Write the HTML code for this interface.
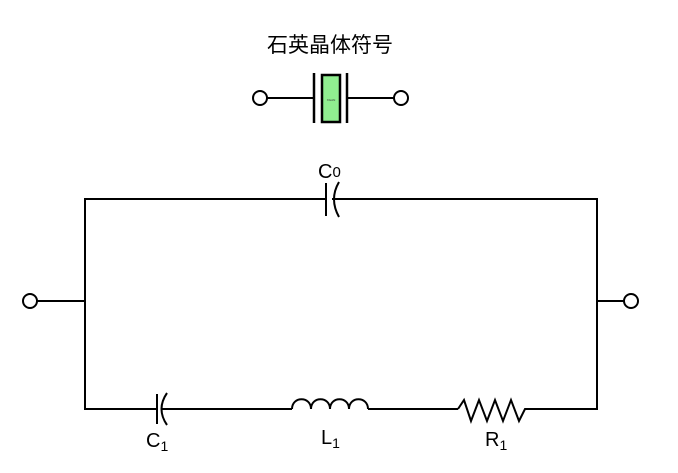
<!DOCTYPE html><html><head><style>body{margin:0;background:#fff}svg{display:block}</style></head><body>
<svg width="678" height="473" viewBox="0 0 678 473" xmlns="http://www.w3.org/2000/svg">
<g stroke="#000" stroke-width="2" fill="none">
<circle cx="260" cy="98" r="7"/>
<line x1="267" y1="98" x2="314" y2="98"/>
<line x1="314" y1="73" x2="314" y2="123" stroke-width="2.5"/>
<rect x="322" y="75" width="18" height="47" fill="#90ee90" stroke-width="2.5"/>
<line x1="347" y1="73" x2="347" y2="123" stroke-width="2.5"/>
<line x1="347" y1="98" x2="394" y2="98"/>
<circle cx="401" cy="98" r="7"/>
<circle cx="30" cy="301" r="7"/>
<line x1="37" y1="301" x2="85" y2="301"/>
<polyline points="326,199 85,199 85,409 157,409"/>
<line x1="326" y1="183" x2="326" y2="216"/>
<path d="M339,182 Q329,199 339,217"/>
<polyline points="332,199 597,199 597,409 532,409"/>
<line x1="597" y1="301" x2="624" y2="301"/>
<circle cx="631" cy="301" r="7"/>
<line x1="157" y1="394" x2="157" y2="424"/>
<path d="M167,393 Q156,409 167,425"/>
<line x1="162" y1="409" x2="292" y2="409"/>
<path d="M292,409 C292,396 311,396 311,409 C311,396 330,396 330,409 C330,396 349,396 349,409 C349,396 368,396 368,409"/>
<line x1="368" y1="409" x2="458" y2="409"/>
<polyline points="458,409 464,400 471,421 479,400 487,421 495,400 503,421 511,400 519,421 525,409 532,409"/>
</g>
<g font-family="Liberation Sans, sans-serif" fill="#000">
<text x="330" y="52" font-size="21" text-anchor="middle" font-family="Liberation Sans, Noto Sans CJK SC, sans-serif">石英晶体符号</text>
<text x="331" y="101" font-size="3" text-anchor="middle" fill="#333">XGAN</text>
<text x="318" y="178" font-size="20">C<tspan font-size="15" dy="-1">0</tspan></text>
<text x="146" y="447" font-size="20">C<tspan font-size="14" dy="4">1</tspan></text>
<text x="321" y="444" font-size="20">L<tspan font-size="14" dy="4">1</tspan></text>
<text x="485" y="446" font-size="20">R<tspan font-size="14" dy="4">1</tspan></text>
</g>
</svg>
</body></html>
